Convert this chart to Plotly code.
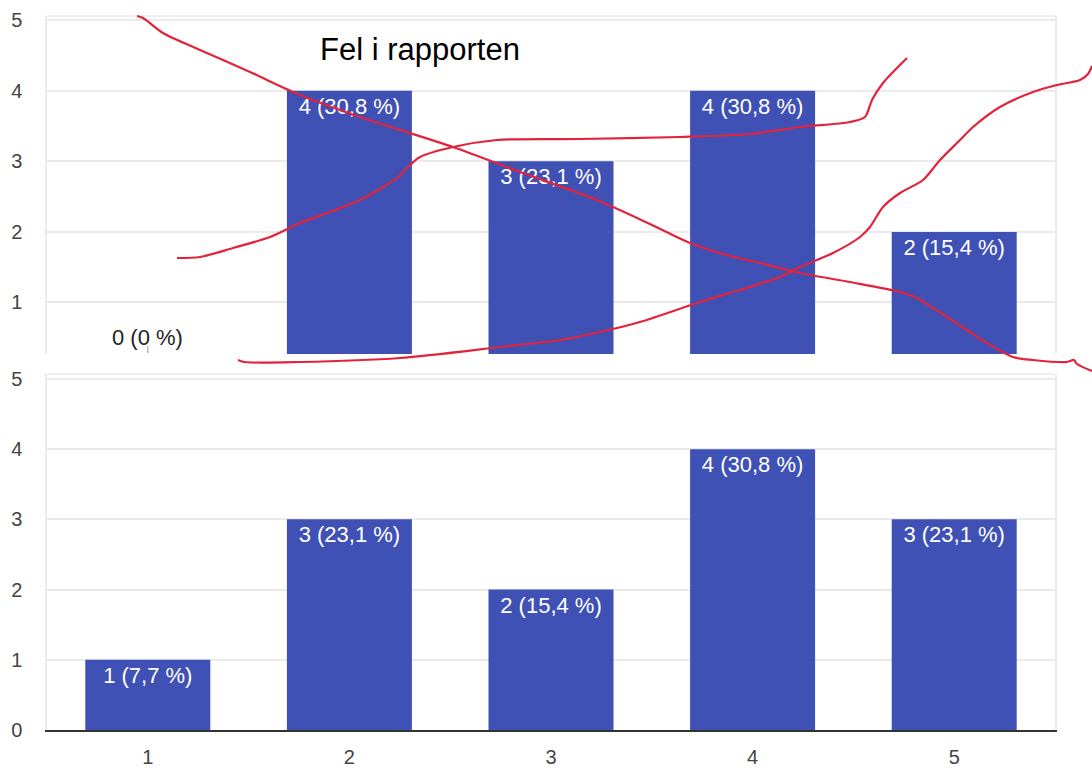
import plotly.graph_objects as go

# ---------------- data ----------------
categories = [1, 2, 3, 4, 5]
top_counts = [0, 4, 3, 4, 2]
bottom_counts = [1, 3, 2, 4, 3]
total_responses = 13
y_ticks = [0, 1, 2, 3, 4, 5]
title_text = "Fel i rapporten"

# hand-drawn red strokes (pixel coordinates of the picture)
stroke_a_x = [137, 143, 163, 200, 250, 300, 360, 453, 520, 597, 650, 690, 730, 760, 800, 850, 900, 917, 933, 967, 987, 1013, 1033, 1067, 1074, 1077, 1092]
stroke_a_y = [16, 18, 33, 50, 72, 95, 117, 147, 172, 200, 224, 243, 256, 263, 273, 282, 292, 298, 308, 330, 343, 357, 360, 362, 360, 364, 371]
stroke_b_x = [177, 200, 233, 270, 300, 335, 360, 385, 397, 410, 420, 453, 497, 580, 680, 750, 800, 850, 865, 872, 883, 907]
stroke_b_y = [258, 257, 248, 237, 223, 210, 200, 186, 178, 165, 157, 147, 140, 139, 137, 134, 127, 122, 117, 100, 83, 58]
stroke_c_x = [238, 244, 300, 400, 500, 560, 600, 640, 700, 740, 780, 800, 833, 860, 870, 883, 900, 923, 940, 960, 973, 1000, 1033, 1057, 1080, 1088, 1092]
stroke_c_y = [360, 362, 362, 358, 347, 340, 332, 322, 302, 290, 277, 267, 253, 237, 227, 207, 193, 180, 160, 140, 127, 107, 92, 85, 80, 74, 66]

# ---------------- helpers ----------------
W, H = 1092, 768
BAR = "#3f51b5"
GRID = "#ebebeb"
TXT = "#444444"
RED = "#e3233b"
FONT = "Liberation Sans, Arial, sans-serif"


def label(v):
    if v == 0:
        return ""
    return f"{v} ({v / total_responses * 100:.1f} %)".replace(".", ",")


def px_x(p):
    return p / W


def px_y(p):
    return 1 - p / H


x_dom = [px_x(47), px_x(1055)]
top_dom = [px_y(354), px_y(16)]
bot_dom = [px_y(730), px_y(374)]

fig = go.Figure()

for counts, xa, ya in [(top_counts, "x", "y"), (bottom_counts, "x2", "y2")]:
    fig.add_trace(go.Bar(
        x=categories, y=counts, xaxis=xa, yaxis=ya,
        marker=dict(color=BAR, line=dict(width=0)),
        width=0.62,
        text=[label(v) for v in counts],
        textposition="inside", insidetextanchor="end",
        textangle=0, constraintext="none",
        textfont=dict(color="white", size=22, family=FONT),
        hoverinfo="skip", showlegend=False,
    ))

# red strokes on a full-page overlay axis
for sx, sy in [(stroke_a_x, stroke_a_y), (stroke_b_x, stroke_b_y), (stroke_c_x, stroke_c_y)]:
    fig.add_trace(go.Scatter(
        x=sx, y=sy, xaxis="x3", yaxis="y3", mode="lines",
        line=dict(color=RED, width=2.2, shape="spline", smoothing=0.8),
        hoverinfo="skip", showlegend=False,
    ))

axis_common = dict(
    showgrid=True, gridcolor=GRID, gridwidth=1.5,
    tickfont=dict(size=20, color=TXT, family=FONT),
    zeroline=False, ticks="", fixedrange=True, automargin=False,
)

fig.update_layout(
    width=W, height=H,
    margin=dict(l=0, r=0, t=0, b=0, pad=0),
    paper_bgcolor="white", plot_bgcolor="rgba(0,0,0,0)",
    bargap=0.38,
    xaxis=dict(domain=x_dom, anchor="y", range=[0.5, 5.5], showticklabels=False,
               showgrid=False, zeroline=False, showline=False, ticks="", fixedrange=True,
               automargin=False),
    yaxis=dict(domain=top_dom, anchor="x", range=[0.27, 5.06], tickvals=y_ticks[1:],
               showline=True, mirror=True, linecolor=GRID, linewidth=1.5,
               ticklabelstandoff=19, **axis_common),
    xaxis2=dict(domain=x_dom, anchor="y2", range=[0.5, 5.5], tickvals=categories,
                showgrid=False, zeroline=False, showline=True, linecolor="#333333", linewidth=2,
                ticks="", ticklabelstandoff=8, automargin=False,
                tickfont=dict(size=20, color=TXT, family=FONT), fixedrange=True),
    yaxis2=dict(domain=bot_dom, anchor="x2", range=[0, 5.07], tickvals=y_ticks,
                showline=True, mirror=True, linecolor=GRID, linewidth=1.5,
                ticklabelstandoff=19, **axis_common),
    xaxis3=dict(domain=[0, 1], anchor="y3", range=[0, W], visible=False, fixedrange=True,
                automargin=False),
    yaxis3=dict(domain=[0, 1], anchor="x3", range=[H, 0], visible=False, fixedrange=True,
                automargin=False),
    shapes=[
        dict(type="line", xref="paper", yref="paper", x0=x_dom[0], x1=x_dom[1],
             y0=top_dom[1], y1=top_dom[1], line=dict(color=GRID, width=1.5), layer="below"),
        dict(type="line", xref="paper", yref="paper", x0=x_dom[0], x1=x_dom[1],
             y0=bot_dom[1], y1=bot_dom[1], line=dict(color=GRID, width=1.5), layer="below"),
        # small tick under the zero bar of the upper chart
        dict(type="line", xref="x", yref="paper", x0=categories[0], x1=categories[0],
             y0=px_y(353), y1=px_y(346), line=dict(color="#aaaaaa", width=1.2)),
    ],
    annotations=[
        dict(text=title_text, xref="paper", yref="paper", x=px_x(420), y=px_y(50),
             xanchor="center", yanchor="middle", showarrow=False,
             font=dict(size=31, color="black", family=FONT)),
        dict(text="0 (0 %)", xref="x", yref="y", x=categories[0], y=0.5,
             xanchor="center", yanchor="middle", showarrow=False,
             font=dict(size=22, color="#222222", family=FONT)),
    ],
)

fig.write_html(
    "out.html",
    config={"displayModeBar": False},
    post_script="document.body.style.margin='0';document.body.style.overflow='hidden';",
)
